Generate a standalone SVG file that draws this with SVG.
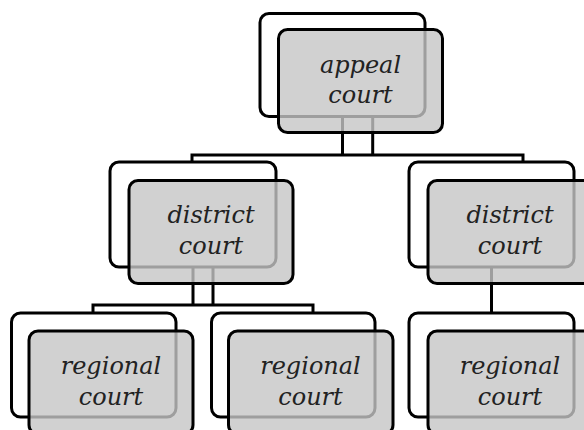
<svg xmlns="http://www.w3.org/2000/svg" width="584" height="430" viewBox="0 0 584 430">
<style>
.back{fill:#ffffff;stroke:#000;stroke-width:3}
.front{fill:#c6c6c6;fill-opacity:0.8;stroke:#000;stroke-width:3}
.conn{fill:none;stroke:#000;stroke-width:3}
.lbl{font-family:"DejaVu Serif",serif;font-style:italic;font-size:24px;fill:#222;text-anchor:middle}
</style>
<rect width="584" height="430" fill="#fff"/>
<g id="connectors">
<path class="conn" d="M342.5,116 V155 M372.7,116 V155 M192,162 V155 H523 V162"/>
<path class="conn" d="M193,267 V305 M213,267 V305 M93,313 V305 H313 V313"/>
<path class="conn" d="M491.5,267 V313"/>
</g>
<g id="appeal">
<rect class="back" x="260" y="13.5" width="165" height="103" rx="9"/>
<rect class="front" x="278.5" y="29.5" width="164" height="103" rx="9"/>
<text class="lbl" x="360.5" y="73">appeal</text>
<text class="lbl" x="360.5" y="103">court</text>
</g>
<g id="district-left">
<rect class="back" x="110" y="162" width="166" height="105" rx="9"/>
<rect class="front" x="129" y="180.5" width="164" height="103" rx="9"/>
<text class="lbl" x="211" y="223">district</text>
<text class="lbl" x="211" y="254">court</text>
</g>
<g id="district-right">
<rect class="back" x="409" y="162" width="165" height="105" rx="9"/>
<rect class="front" x="428" y="180.5" width="164" height="103" rx="9"/>
<text class="lbl" x="510" y="223">district</text>
<text class="lbl" x="510" y="254">court</text>
</g>
<g id="regional-left">
<rect class="back" x="11.5" y="313" width="164.5" height="104" rx="9"/>
<rect class="front" x="29" y="331" width="164" height="103" rx="9"/>
<text class="lbl" x="111" y="374">regional</text>
<text class="lbl" x="111" y="405">court</text>
</g>
<g id="regional-middle">
<rect class="back" x="211.5" y="313" width="163.5" height="104" rx="9"/>
<rect class="front" x="228.5" y="331" width="164.5" height="103" rx="9"/>
<text class="lbl" x="310.5" y="374">regional</text>
<text class="lbl" x="310.5" y="405">court</text>
</g>
<g id="regional-right">
<rect class="back" x="409" y="313" width="165" height="104" rx="9"/>
<rect class="front" x="428" y="331" width="164" height="103" rx="9"/>
<text class="lbl" x="510" y="374">regional</text>
<text class="lbl" x="510" y="405">court</text>
</g>
</svg>
